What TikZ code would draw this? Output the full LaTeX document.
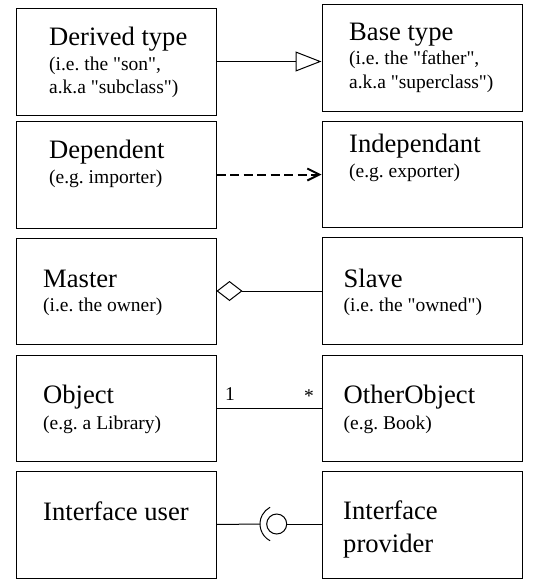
\documentclass[tikz,border=0pt]{standalone}
\usepackage{fontspec}
\setmainfont{Liberation Serif}
\usetikzlibrary{arrows.meta}
\newcommand{\q}{\textquotedbl}
\frenchspacing
\begin{document}
\begin{tikzpicture}[x=1pt,y=-1pt,
  box/.style={draw, line width=1pt, minimum width=200pt, inner sep=0pt, anchor=north west},
  big/.style={anchor=base west, inner sep=0pt, font=\fontsize{26.6}{32.4}\selectfont},
  small/.style={anchor=base west, inner sep=0pt, font=\fontsize{19.5}{22.3}\selectfont},
  conn/.style={line width=1pt}]
\useasboundingbox (0,0) rectangle (533,582);

% boxes
\node[box, minimum height=107pt] (dt) at (15.5,7.5) {};
\node[box, minimum height=107pt] (bt) at (321.5,3.5) {};
\node[box, minimum height=107pt] (dep) at (15.5,120.5) {};
\node[box, minimum height=106pt] (ind) at (321.5,120.5) {};
\node[box, minimum height=106pt] (ma) at (15.5,237.5) {};
\node[box, minimum height=107pt] (sl) at (321.5,236.5) {};
\node[box, minimum height=106pt] (ob) at (15.5,354.5) {};
\node[box, minimum height=106pt] (oo) at (321.5,354.5) {};
\node[box, minimum height=107pt] (iu) at (15.5,470.5) {};
\node[box, minimum height=107pt] (ip) at (321.5,470.5) {};

% texts
\node[big] (t1) at (49,45) {Derived type};
\node[small] (t1a) at (49,70.5) {(i.e. the \q son\q,};
\node[small] (t1b) at (49,93.5) {a.k.a \q subclass\q)};
\node[big] (t2) at (349,40) {Base type};
\node[small] (t2a) at (349,64.5) {(i.e. the \q father\q,};
\node[small] (t2b) at (349,88) {a.k.a \q superclass\q)};
\node[big] (t3) at (49,158.5) {Dependent};
\node[small] (t3a) at (49,183.5) {(e.g. importer)};
\node[big] (t4) at (349,152) {Independant};
\node[small] (t4a) at (349,177) {(e.g. exporter)};
\node[big] (t5) at (43,287.5) {Master};
\node[small] (t5a) at (43,311.5) {(i.e. the owner)};
\node[big] (t6) at (343.5,287.5) {Slave};
\node[small] (t6a) at (343.5,311.5) {(i.e. the \q owned\q)};
\node[big] (t7) at (43,403.5) {Object};
\node[small] (t7a) at (43,429) {(e.g. a Library)};
\node[big] (t8) at (343.5,403.5) {OtherObject};
\node[small] (t8a) at (343.5,429) {(e.g. Book)};
\node[big] (t9) at (43,520) {Interface user};
\node[big] (t10) at (343,519.5) {Interface};
\node[big] (t10a) at (343,552) {provider};

% generalization
\draw[conn, -{Triangle[open, length=26pt, width=20pt, fill=white]}] (dt.east) -- (dt.east -| bt.west);
% dependency
\draw[line width=2pt, dash pattern=on 9pt off 4.5pt, -{Straight Barb[length=12pt, width=12pt]}] (dep.east) -- (dep.east -| ind.west);
% aggregation
\draw[conn, {Diamond[open, length=26pt, width=20pt, fill=white]}-] (ma.east) -- (ma.east -| sl.west);
% association
\draw[conn] (ob.east) -- (ob.east -| oo.west);
\node[small] (one) at (225,400) {1};
\node[small] (many) at (304,402) {*};
% interface
\node[circle, draw, line width=1pt, minimum size=20pt, inner sep=0pt] (ball) at (276.7,524) {};
\coordinate (sock) at (260,524);
\draw[conn] (iu.east) -- (sock);
\draw[conn] (ball.east) -- (ball.east -| ip.west);
\draw[conn] ([shift={(118:19)}]279,524) arc[start angle=118, end angle=242, radius=19];
\end{tikzpicture}
\end{document}
